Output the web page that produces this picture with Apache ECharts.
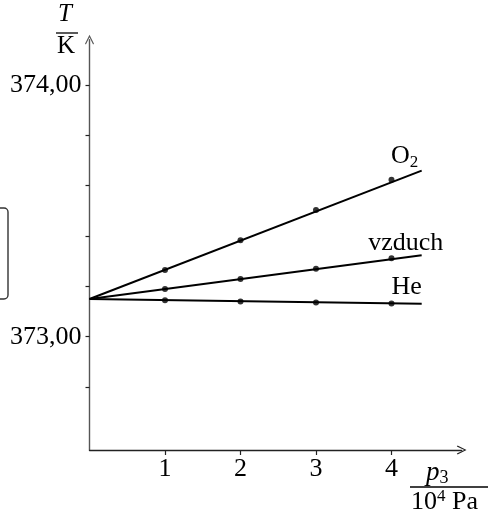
<!DOCTYPE html>
<html>
<head>
<meta charset="utf-8">
<script src="https://cdn.jsdelivr.net/npm/echarts@6/dist/echarts.min.js"></script>
<style>
  html, body { margin: 0; padding: 0; background: #fff; }
  #chart { width: 488px; height: 510px; }
</style>
</head>
<body>
<div id="chart"></div>
<script>
// tlak p3 v jednotkach 10^4 Pa
var pressure = [1, 2, 3, 4];
// namerene teploty varu (K)
var o2Temps = [373.265, 373.383, 373.503, 373.624];
var airTemps = [373.19, 373.229, 373.27, 373.312];
var heTemps = [373.145, 373.14, 373.136, 373.132];
// prolozene primky: spolecny zacatek a konce
var fitX = [0, 4.4];
var startTemp = 373.15;
var o2End = 373.66;
var airEnd = 373.324;
var heEnd = 373.131;
// popisky os
var yTicks = [372.8, 373.0, 373.2, 373.4, 373.6, 373.8, 374.0];
var yLabels = [373.0, 374.0];
var xTicks = [1, 2, 3, 4];

var serif = '"Liberation Serif", "DejaVu Serif", serif';

function pts(xs, ys) {
    return xs.map(function (x, i) { return [x, ys[i]]; });
}

function fitLine(name, endT) {
    return {
        name: name,
        type: 'line',
        data: [[fitX[0], startTemp], [fitX[1], endT]],
        showSymbol: false,
        lineStyle: { color: '#000', width: 2 },
        z: 3
    };
}

function dots(name, temps, label) {
    return {
        name: name,
        type: 'scatter',
        data: pts(pressure, temps),
        symbolSize: 6,
        itemStyle: { color: '#000' },
        z: 4,
        markPoint: {
            symbol: 'circle',
            symbolSize: 1,
            itemStyle: { color: 'rgba(0,0,0,0)' },
            data: [{
                coord: label.coord,
                label: {
                    show: true,
                    position: 'inside',
                    offset: label.offset,
                    formatter: label.text,
                    color: '#000',
                    fontFamily: serif,
                    fontSize: 26,
                    rich: {
                        s: { fontSize: 17, fontFamily: serif, color: '#000', padding: [12, 0, 0, 0] }
                    }
                }
            }]
        }
    };
}

var arrow = 'path://M0,10 L5,0 L10,10 L9,10.8 L5,2.6 L1,10.8 Z';

var myChart = echarts.init(document.getElementById('chart'));

option = {
    animation: false,
    backgroundColor: '#fff',
    grid: { left: 89.5, right: 26.3, top: 39.7, bottom: 60 },
    xAxis: {
        type: 'value',
        min: 0,
        max: 4.93,
        splitLine: { show: false },
        axisLine: {
            show: true,
            symbol: ['none', arrow],
            symbolSize: [9, 11],
            lineStyle: { color: '#222', width: 1.4 }
        },
        axisTick: {
            show: true,
            customValues: xTicks,
            length: 5,
            lineStyle: { color: '#222', width: 1.2 }
        },
        axisLabel: {
            customValues: xTicks,
            margin: 6,
            color: '#000',
            fontFamily: serif,
            fontSize: 26
        }
    },
    yAxis: {
        type: 'value',
        min: 372.55,
        max: 374.18,
        splitLine: { show: false },
        axisLine: {
            show: true,
            symbol: ['none', arrow],
            symbolSize: [9, 11],
            lineStyle: { color: '#555', width: 1.4 }
        },
        axisTick: {
            show: true,
            customValues: yTicks,
            length: 4,
            lineStyle: { color: '#222', width: 1.2 }
        },
        axisLabel: {
            customValues: yLabels,
            margin: 8,
            color: '#000',
            fontFamily: serif,
            fontSize: 26,
            formatter: function (v) { return v.toFixed(2).replace('.', ','); }
        }
    },
    graphic: [
        // T / K
        { type: 'text', left: 58, top: 2, style: { text: 'T', fontFamily: serif, fontStyle: 'italic', fontSize: 25, fill: '#000' } },
        { type: 'line', shape: { x1: 56, y1: 33, x2: 78, y2: 33 }, style: { stroke: '#000', lineWidth: 1.3 } },
        { type: 'text', left: 57, top: 34, style: { text: 'K', fontFamily: serif, fontSize: 25, fill: '#000' } },
        // p3 / 10^4 Pa
        {
            type: 'text', left: 426, top: 459,
            style: {
                text: '{i|p}{s|3}', fill: '#000',
                rich: {
                    i: { fontFamily: serif, fontStyle: 'italic', fontSize: 27 },
                    s: { fontFamily: serif, fontSize: 18, padding: [11, 0, 0, 0] }
                }
            }
        },
        { type: 'line', shape: { x1: 410, y1: 487, x2: 488, y2: 487 }, style: { stroke: '#000', lineWidth: 1.3 } },
        {
            type: 'text', left: 411, top: 488,
            style: {
                text: '10{s|4} Pa', fill: '#000', fontFamily: serif, fontSize: 26,
                rich: {
                    s: { fontFamily: serif, fontSize: 17, padding: [0, 0, 12, 0] }
                }
            }
        },
        // orizly ramecek vlevo
        { type: 'rect', shape: { x: -30, y: 208, width: 38, height: 91, r: 4 }, style: { fill: 'none', stroke: '#333', lineWidth: 1.4 } }
    ],
    series: [
        fitLine('O2', o2End),
        fitLine('vzduch', airEnd),
        fitLine('He', heEnd),
        dots('O2 body', o2Temps, { coord: [fitX[1], o2End], offset: [-17, -14], text: 'O{s|2}' }),
        dots('vzduch body', airTemps, { coord: [fitX[1], airEnd], offset: [-16, -12], text: 'vzduch' }),
        dots('He body', heTemps, { coord: [fitX[1], heEnd], offset: [-15, -17], text: 'He' })
    ]
};

myChart.setOption(option);
window.addEventListener('resize', function () {
    myChart.resize();
});
</script>
</body>
</html>
